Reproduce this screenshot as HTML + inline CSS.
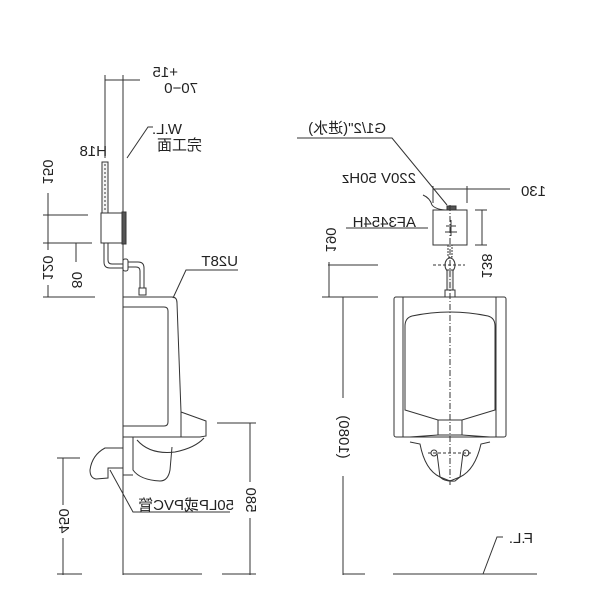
<!DOCTYPE html>
<html><head><meta charset="utf-8"><style>
body{margin:0;background:#fff}
svg{display:block}
text{font-family:"Liberation Sans","Noto Sans CJK SC",sans-serif;font-size:15px;fill:#222}
</style></head><body>
<svg width="600" height="600" viewBox="0 0 600 600" xmlns="http://www.w3.org/2000/svg">
<g fill="none" stroke="#333" stroke-width="1">
<line x1="123" y1="75" x2="123" y2="575"/>
<line x1="105" y1="75" x2="105" y2="158"/>
<line x1="105" y1="80" x2="140" y2="80"/>
<polyline points="127,158 148,127 153,127"/>
<rect x="102" y="162" width="6" height="51" fill="#f4f4f4"/>
<line x1="105" y1="164" x2="105" y2="211" stroke-dasharray="2,2"/>
<rect x="101" y="213" width="21" height="30"/>
<rect x="122" y="212" width="4" height="32" fill="#555"/>
<path d="M104 243 V262 Q104 268 110 268 H123 M108 243 V260 Q108 264 112 264 H123"/>
<rect x="123" y="259" width="5" height="12" rx="2"/>
<path d="M128 262 H138 Q144 262 144 268 V288 M128 267 H136 Q140 267 140 271 V288"/>
<rect x="139" y="288" width="7" height="7"/>
<polyline points="173,298 186,270 238,270"/>
<line x1="48" y1="193" x2="48" y2="250"/><line x1="48" y1="285" x2="48" y2="297"/>
<line x1="43" y1="215" x2="88" y2="215"/>
<line x1="43" y1="243" x2="92" y2="243"/>
<line x1="43" y1="297" x2="95" y2="297"/>
<line x1="76" y1="243" x2="76" y2="262"/>
<path d="M123 297 H172 Q177 297 177 303 L181 412 L206 421 V436 L200 437 H123"/>
<path d="M123 307 H164 Q168 307 168 311 V422 Q168 426 164 426 H123"/>
<path d="M181 412 L181 437"/>
<path d="M137 440 Q150 455 175 452 Q195 448 204 438"/>
<path d="M133 437 V470 Q140 480 160 481 Q168 481 170 470 L172 447"/>
<line x1="133" y1="475" x2="123" y2="475"/>
<path d="M123 448 H105 Q92 455 90 470 Q90 478 96 479 L108 478 V468 H123"/>
<polyline points="110,470 133,512 230,512"/>
<line x1="63" y1="458" x2="63" y2="505"/><line x1="63" y1="538" x2="63" y2="575"/>
<line x1="57" y1="458" x2="80" y2="458"/><line x1="57" y1="574" x2="82" y2="574"/>
<line x1="250" y1="423" x2="250" y2="482"/><line x1="250" y1="518" x2="250" y2="575"/>
<line x1="217" y1="423" x2="256" y2="423"/><line x1="222" y1="574" x2="256" y2="574"/>
<line x1="123" y1="574" x2="202" y2="574"/>

<polyline points="297,138 392,138 447,205"/>
<line x1="433" y1="186" x2="433" y2="203"/><line x1="467" y1="186" x2="467" y2="203"/>
<line x1="433" y1="189" x2="510" y2="189"/>
<path d="M423 195 Q430 198 432 205 Q436 210 448 210"/>
<rect x="433" y="210" width="34" height="35"/>
<rect x="447" y="206" width="9" height="4" fill="#555"/>
<line x1="446" y1="226" x2="456" y2="226"/><line x1="445" y1="232" x2="457" y2="232"/><line x1="451" y1="220" x2="451" y2="236"/>
<line x1="346" y1="228" x2="428" y2="228"/>
<line x1="482" y1="210" x2="482" y2="245"/>
<line x1="475" y1="210" x2="487" y2="210"/><line x1="475" y1="245" x2="487" y2="245"/>
<rect x="448" y="245" width="4" height="12" stroke-dasharray="2,1"/>
<ellipse cx="450" cy="265" rx="5" ry="7"/>
<line x1="433" y1="265" x2="465" y2="265" stroke-dasharray="3,2"/>
<rect x="447" y="270" width="6" height="20" fill="#eee"/>
<rect x="445" y="290" width="10" height="7"/>
<line x1="329" y1="262" x2="329" y2="297"/>
<line x1="328" y1="265" x2="378" y2="265"/>
<line x1="322" y1="297" x2="378" y2="297"/>
<line x1="343" y1="297" x2="343" y2="398"/><line x1="343" y1="476" x2="343" y2="575"/>
<line x1="343" y1="574" x2="365" y2="574"/>
<rect x="394" y="297" width="112" height="140" rx="2"/>
<line x1="403" y1="297" x2="403" y2="437"/><line x1="496" y1="297" x2="496" y2="437"/>
<path d="M412 316 Q450 308 488 316 Q495 318 495 326 V410 L462 420 H438 L405 410 V326 Q405 318 412 316"/>
<rect x="438" y="420" width="24" height="15"/>
<line x1="410" y1="437" x2="438" y2="435"/><line x1="462" y1="435" x2="490" y2="437"/>
<path d="M410 442 L420 444 Q425 470 440 477 L450 481 L460 477 Q475 470 481 444 L490 442"/>
<path d="M437 453 L440 477 Q445 482 455 481 L460 477 L463 453"/>
<line x1="428" y1="453" x2="472" y2="453" stroke-dasharray="3,2"/>
<circle cx="434" cy="453" r="3"/><circle cx="466" cy="453" r="3"/>
<line x1="450" y1="205" x2="450" y2="485" stroke-dasharray="6,2,1,2"/>
<line x1="393" y1="574" x2="537" y2="574"/>
<polyline points="483,574 497,537 503,537"/>
</g>

<text transform="translate(178,77) scale(-1,1)">+15</text>
<text transform="translate(198,93) scale(-1,1)">70−0</text>
<text transform="translate(182,134) scale(-1,1)">W.L.</text>
<text transform="translate(202,150) scale(-1,1)">完工面</text>
<text transform="translate(107,156) scale(-1,1)">H18</text>
<text transform="translate(238,266) scale(-1,1)">U28T</text>
<text transform="translate(234,510) scale(-1,1)">50LP或PVC管</text>
<text transform="translate(386,133) scale(-1,1)">G1/2"(进水)</text>
<text transform="translate(416,183) scale(-1,1)">220V 50Hz</text>
<text transform="translate(546,196) scale(-1,1)">130</text>
<text transform="translate(416,227) scale(-1,1)">AF3454H</text>
<text transform="translate(533,543) scale(-1,1)">F.L.</text>
<g text-anchor="middle" dominant-baseline="middle">
<text transform="translate(47,172) scale(-1,1) rotate(-90)">150</text>
<text transform="translate(47,268) scale(-1,1) rotate(-90)">120</text>
<text transform="translate(76,280) scale(-1,1) rotate(-90)">80</text>
<text transform="translate(63,521) scale(-1,1) rotate(-90)">450</text>
<text transform="translate(250,500) scale(-1,1) rotate(-90)">580</text>
<text transform="translate(330,240) scale(-1,1) rotate(-90)">190</text>
<text transform="translate(486,266) scale(-1,1) rotate(-90)">138</text>
<text transform="translate(343,437) scale(-1,1) rotate(-90)">(1080)</text>
</g>
</svg>
</body></html>
